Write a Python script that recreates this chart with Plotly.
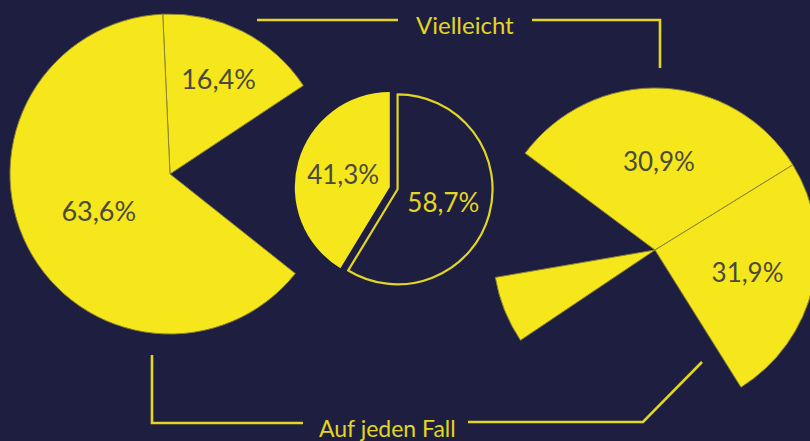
import plotly.graph_objects as go

# Canvas slightly wider than the 810px window so the right pie can run off the edge, as in the reference
W, H = 826, 441
BG = "#1e1f40"
YEL = "#f6e71c"
LINE_YEL = "#e2d622"
TXT_DARK = "#4b4a3c"
SEP = "#8c8430"
CLEAR = "rgba(0,0,0,0)"
FONT = "Lato, 'Open Sans', sans-serif"

# Left pie, drawn shares incl. the empty gap
left_values = [16.4, 20.0, 63.6]
left_text = ["16,4%", "", "63,6%"]
left_filled = [True, False, True]

# Middle pie
mid_values = [58.7, 41.3]
mid_text = ["58,7%", "41,3%"]
mid_outline = [True, False]
mid_pull = [0.05, 0.035]

# Right pie, drawn shares (labels as printed)
right_values = [31.0, 24.9, 24.5, 6.7, 12.9]
right_text = ["30,9%", "31,9%", "", "", ""]
right_filled = [True, True, False, True, False]

label_top = "Vielleicht"
label_bottom = "Auf jeden Fall"


def dom_x(cx, r):
    return [max(0, (cx - r) / W), min(1, (cx + r) / W)]


def dom_y(cy, r):
    return [max(0, (H - cy - r) / H), min(1, (H - cy + r) / H)]


fig = go.Figure()

fig.add_trace(go.Pie(
    values=left_values, text=left_text, textinfo="text",
    sort=False, direction="clockwise", rotation=-2.6,
    marker=dict(colors=[YEL if f else CLEAR for f in left_filled],
                line=dict(color=[SEP if f else CLEAR for f in left_filled],
                          width=[1 if f else 0 for f in left_filled])),
    textposition="inside", insidetextorientation="horizontal",
    textfont=dict(family=FONT, size=27, color=TXT_DARK),
    domain=dict(x=dom_x(170, 160), y=dom_y(174, 160)),
    hoverinfo="skip", showlegend=False,
))

mr = 95 * 1.05
fig.add_trace(go.Pie(
    values=mid_values, text=mid_text, textinfo="text",
    sort=False, direction="clockwise", rotation=0, pull=mid_pull,
    marker=dict(colors=[BG if o else YEL for o in mid_outline],
                line=dict(color=[LINE_YEL if o else CLEAR for o in mid_outline],
                          width=[2.2 if o else 0 for o in mid_outline])),
    textposition="inside", insidetextorientation="horizontal",
    textfont=dict(family=FONT, size=26,
                  color=[LINE_YEL if o else TXT_DARK for o in mid_outline]),
    domain=dict(x=dom_x(393, mr), y=dom_y(188, mr)),
    hoverinfo="skip", showlegend=False,
))

fig.add_trace(go.Pie(
    values=right_values, text=right_text, textinfo="text",
    sort=False, direction="clockwise", rotation=-53.3,
    marker=dict(colors=[YEL if f else CLEAR for f in right_filled],
                line=dict(color=[SEP if f else CLEAR for f in right_filled],
                          width=[1 if f else 0 for f in right_filled])),
    textposition="inside", insidetextorientation="horizontal",
    textfont=dict(family=FONT, size=26, color=TXT_DARK),
    domain=dict(x=dom_x(655, 162), y=dom_y(250, 162)),
    hoverinfo="skip", showlegend=False,
))


def px(x, y):
    return x / W, 1 - y / H


def seg(points):
    path = ""
    for i, (x, y) in enumerate(points):
        X, Y = px(x, y)
        path += ("M" if i == 0 else "L") + f"{X},{Y} "
    return dict(type="path", xref="paper", yref="paper", path=path.strip(),
                line=dict(color=LINE_YEL, width=2.6))


shapes = [
    seg([(257, 20), (398, 20)]),
    seg([(532, 20), (660, 20), (660, 68)]),
    seg([(152, 355), (152, 423), (303, 423)]),
    seg([(468, 422), (643, 422), (702, 362)]),
]

annotations = []
for txt, (x, y), size in [(label_top, (465, 25), 24), (label_bottom, (387, 428), 23)]:
    X, Y = px(x, y)
    annotations.append(dict(text=txt, x=X, y=Y, xref="paper", yref="paper",
                            showarrow=False, xanchor="center", yanchor="middle",
                            font=dict(family=FONT, size=size, color=LINE_YEL)))

fig.update_layout(
    width=W, height=H, margin=dict(l=0, r=0, t=0, b=0),
    paper_bgcolor=BG, plot_bgcolor=BG,
    shapes=shapes, annotations=annotations,
)

fig.write_html(
    "out.html",
    config={"displayModeBar": False},
    post_script="document.body.style.margin='0';document.body.style.padding='0';"
                "document.body.style.background='" + BG + "';"
                "document.body.style.overflow='hidden';"
                "document.documentElement.style.overflow='hidden';",
)
